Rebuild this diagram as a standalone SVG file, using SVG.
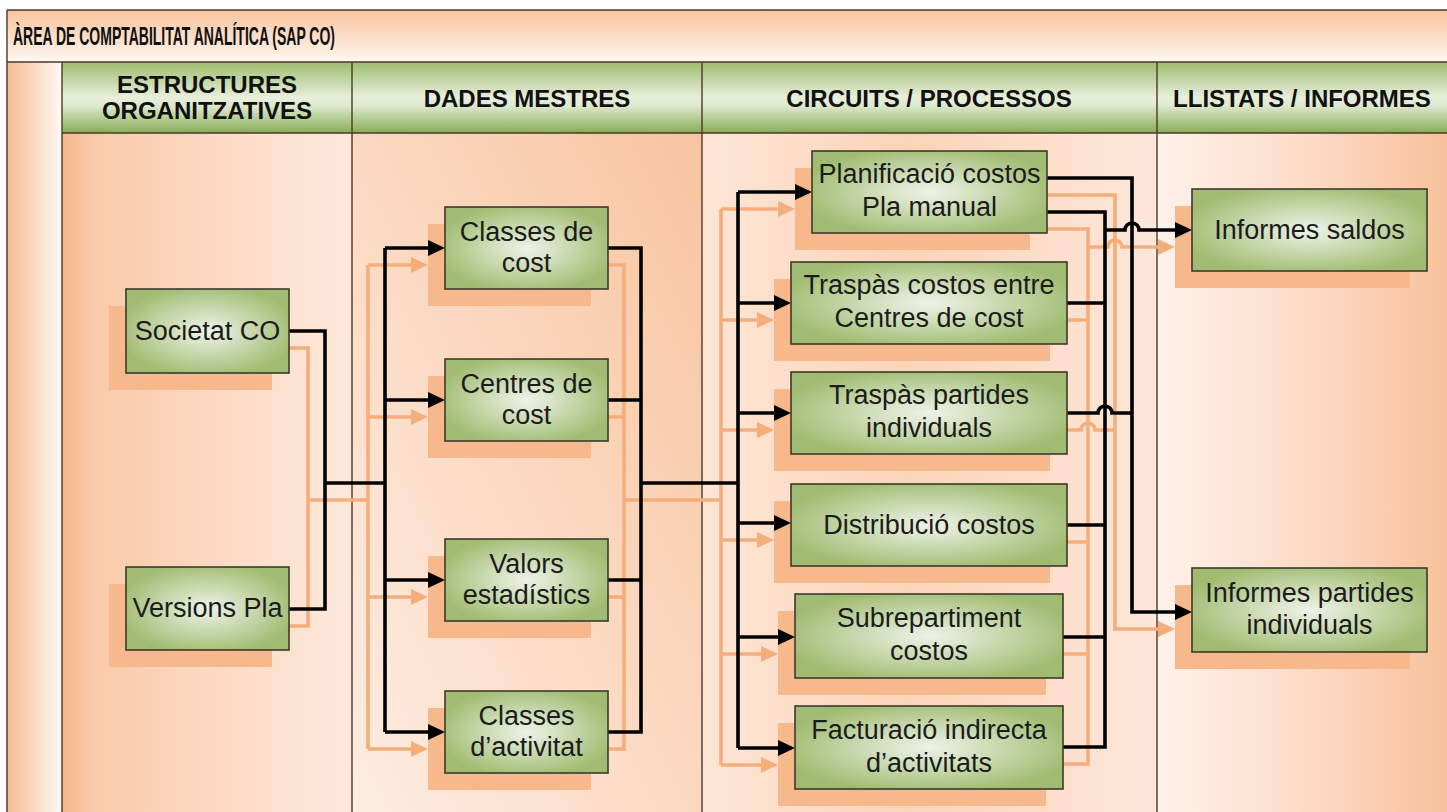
<svg xmlns="http://www.w3.org/2000/svg" width="1447" height="812" viewBox="0 0 1447 812">
<defs>
<style>
.box{fill:url(#gNode);stroke:#3a3a2c;stroke-width:1.6}
.sh{fill:#f7b88c}
.lbl{font-family:"Liberation Sans",Arial,sans-serif;font-size:27px;fill:#1c1c1c;text-anchor:middle}
.hdr{font-family:"Liberation Sans",Arial,sans-serif;font-weight:bold;font-size:24px;fill:#111;text-anchor:middle}
.ttl{font-family:"Liberation Sans",Arial,sans-serif;font-weight:bold;font-size:25px;fill:#111}
.sep{stroke:#4a3a2a;stroke-width:1.4;fill:none}
.w{fill:none;stroke:#000;stroke-width:3.6}
.wa{fill:none;stroke:#000;stroke-width:3.6;marker-end:url(#ab)}
.o{fill:none;stroke:#f4ae7c;stroke-width:3.6}
.oa{fill:none;stroke:#f4ae7c;stroke-width:3.6;marker-end:url(#ao)}
</style>
<linearGradient id="gTitle" x1="0" y1="0" x2="0" y2="1"><stop offset="0" stop-color="#f8c39c"/><stop offset="1" stop-color="#fff8f2"/></linearGradient>
<linearGradient id="gStrip" x1="0" y1="0" x2="1" y2="0"><stop offset="0" stop-color="#f6bd95"/><stop offset="0.55" stop-color="#fbdcc6"/><stop offset="1" stop-color="#fffaf6"/></linearGradient>
<linearGradient id="gHead" x1="0" y1="0" x2="0" y2="1"><stop offset="0" stop-color="#9dbc6d"/><stop offset="0.5" stop-color="#e8efdb"/><stop offset="0.62" stop-color="#dde8cc"/><stop offset="1" stop-color="#88ad56"/></linearGradient>
<linearGradient id="gC1" x1="0" y1="0" x2="1" y2="0"><stop offset="0" stop-color="#f6b68a"/><stop offset="0.1" stop-color="#f9caa9"/><stop offset="0.6" stop-color="#fcdcc7"/><stop offset="1" stop-color="#fde9dc"/></linearGradient>
<linearGradient id="gC2" x1="0" y1="1" x2="1" y2="0"><stop offset="0" stop-color="#fdede2"/><stop offset="0.5" stop-color="#fbd9c1"/><stop offset="1" stop-color="#f8c4a0"/></linearGradient>
<linearGradient id="gC3" x1="0" y1="0" x2="1" y2="0"><stop offset="0" stop-color="#fde6d6"/><stop offset="0.45" stop-color="#fbd4b8"/><stop offset="1" stop-color="#fde7d9"/></linearGradient>
<linearGradient id="gC4" x1="0" y1="0" x2="1" y2="0"><stop offset="0" stop-color="#fef2ea"/><stop offset="0.5" stop-color="#fcdcc7"/><stop offset="1" stop-color="#f8c19c"/></linearGradient>
<radialGradient id="gNode" cx="0.5" cy="0.5" r="0.55"><stop offset="0" stop-color="#eef2e8"/><stop offset="0.25" stop-color="#dbe6cb"/><stop offset="1" stop-color="#a1bc72"/></radialGradient>
<marker id="ab" markerUnits="userSpaceOnUse" markerWidth="18" markerHeight="16" refX="7" refY="8" orient="auto"><path d="M0,0 L17,8 L0,16 z" fill="#000"/></marker>
<marker id="ao" markerUnits="userSpaceOnUse" markerWidth="18" markerHeight="16" refX="7" refY="8" orient="auto"><path d="M0,0 L17,8 L0,16 z" fill="#f4ae7c"/></marker>
</defs>

<g id="background">
<rect x="7" y="10" width="1440" height="52" fill="url(#gTitle)"/>
<rect x="7" y="62" width="55" height="750" fill="url(#gStrip)"/>
<rect x="62" y="62" width="1385" height="71" fill="url(#gHead)"/>
<rect x="62" y="133" width="290" height="679" fill="url(#gC1)"/>
<rect x="352" y="133" width="350" height="679" fill="url(#gC2)"/>
<rect x="702" y="133" width="455" height="679" fill="url(#gC3)"/>
<rect x="1157" y="133" width="290" height="679" fill="url(#gC4)"/>
<path class="sep" d="M7,10 H1447 M7,10 V812 M7,62 H1447 M62,133 H1447 M62,62 V812 M352,62 V812 M702,62 V812 M1157,62 V812"/>
<text class="ttl" x="13" y="45" textLength="322" lengthAdjust="spacingAndGlyphs">ÀREA DE COMPTABILITAT ANALÍTICA (SAP CO)</text>
</g>

<g id="headers">
<text class="hdr" x="207" y="93">ESTRUCTURES</text>
<text class="hdr" x="207" y="119">ORGANITZATIVES</text>
<text class="hdr" x="527" y="107">DADES MESTRES</text>
<text class="hdr" x="929" y="107">CIRCUITS / PROCESSOS</text>
<text class="hdr" x="1302" y="107">LLISTATS / INFORMES</text>
</g>

<g id="shadows">
<rect class="sh" x="109" y="306" width="163" height="84"/>
<rect class="sh" x="109" y="584" width="163" height="83"/>
<rect class="sh" x="428" y="224" width="163" height="82"/>
<rect class="sh" x="428" y="376" width="163" height="82"/>
<rect class="sh" x="428" y="556" width="163" height="82"/>
<rect class="sh" x="428" y="708" width="163" height="82"/>
<rect class="sh" x="795" y="168" width="235" height="82"/>
<rect class="sh" x="774" y="279" width="276" height="82"/>
<rect class="sh" x="774" y="389" width="276" height="82"/>
<rect class="sh" x="774" y="501" width="276" height="82"/>
<rect class="sh" x="778" y="611" width="268" height="84"/>
<rect class="sh" x="778" y="723" width="268" height="83"/>
<rect class="sh" x="1175" y="206" width="235" height="82"/>
<rect class="sh" x="1175" y="585" width="235" height="84"/>
</g>

<g id="connectors">
<g id="connector-shadows" transform="translate(-17,17)">
<path class="o" d="M289,331 H325 V609 H289 M325,483 H385 M385,248 V732"/>
<path class="oa" d="M385,248 H435"/><path class="oa" d="M385,400 H435"/><path class="oa" d="M385,580 H435"/><path class="oa" d="M385,732 H435"/>
<path class="o" d="M608,248 H641 V732 H608 M608,400 H641 M608,580 H641 M641,483 H738 M738,192 V748"/>
<path class="oa" d="M738,192 H802"/><path class="oa" d="M738,303 H781"/><path class="oa" d="M738,413 H781"/><path class="oa" d="M738,523 H781"/><path class="oa" d="M738,637 H785"/><path class="oa" d="M738,748 H785"/>
<path class="oa" d="M1047,178 H1132 V612 H1182"/>
<path class="o" d="M1047,212 H1105 V747 H1063 M1067,303 H1105 M1067,525 H1105 M1063,637 H1105 M1067,413 H1098 A7,7 0 0 1 1112,413 H1132"/>
<path class="oa" d="M1105,230 H1125 A7,7 0 0 1 1139,230 H1182"/>
</g>
<g id="connector-lines">
<path class="w" d="M289,331 H325 V609 H289 M325,483 H385 M385,248 V732"/>
<path class="wa" d="M385,248 H435"/><path class="wa" d="M385,400 H435"/><path class="wa" d="M385,580 H435"/><path class="wa" d="M385,732 H435"/>
<path class="w" d="M608,248 H641 V732 H608 M608,400 H641 M608,580 H641 M641,483 H738 M738,192 V748"/>
<path class="wa" d="M738,192 H802"/><path class="wa" d="M738,303 H781"/><path class="wa" d="M738,413 H781"/><path class="wa" d="M738,523 H781"/><path class="wa" d="M738,637 H785"/><path class="wa" d="M738,748 H785"/>
<path class="wa" d="M1047,178 H1132 V612 H1182"/>
<path class="w" d="M1047,212 H1105 V747 H1063 M1067,303 H1105 M1067,525 H1105 M1063,637 H1105 M1067,413 H1098 A7,7 0 0 1 1112,413 H1132"/>
<path class="wa" d="M1105,230 H1125 A7,7 0 0 1 1139,230 H1182"/>
</g>
</g>

<g id="n-societat"><rect class="box" x="126" y="289" width="163" height="84"/><text class="lbl" x="207.5" y="340">Societat CO</text></g>
<g id="n-versions"><rect class="box" x="126" y="567" width="163" height="83"/><text class="lbl" x="207.5" y="617">Versions Pla</text></g>

<g id="n-classes-cost"><rect class="box" x="445" y="207" width="163" height="82"/><text class="lbl" x="526.5" y="241">Classes de</text><text class="lbl" x="526.5" y="272">cost</text></g>
<g id="n-centres-cost"><rect class="box" x="445" y="359" width="163" height="82"/><text class="lbl" x="526.5" y="393">Centres de</text><text class="lbl" x="526.5" y="424">cost</text></g>
<g id="n-valors"><rect class="box" x="445" y="539" width="163" height="82"/><text class="lbl" x="526.5" y="573">Valors</text><text class="lbl" x="526.5" y="604">estadístics</text></g>
<g id="n-classes-activitat"><rect class="box" x="445" y="691" width="163" height="82"/><text class="lbl" x="526.5" y="725">Classes</text><text class="lbl" x="526.5" y="756">d’activitat</text></g>

<g id="n-planificacio"><rect class="box" x="812" y="151" width="235" height="82"/><text class="lbl" x="929.5" y="183">Planificació costos</text><text class="lbl" x="929.5" y="216">Pla manual</text></g>
<g id="n-traspas-costos"><rect class="box" x="791" y="262" width="276" height="82"/><text class="lbl" x="929" y="294">Traspàs costos entre</text><text class="lbl" x="929" y="327">Centres de cost</text></g>
<g id="n-traspas-partides"><rect class="box" x="791" y="372" width="276" height="82"/><text class="lbl" x="929" y="404">Traspàs partides</text><text class="lbl" x="929" y="437">individuals</text></g>
<g id="n-distribucio"><rect class="box" x="791" y="484" width="276" height="82"/><text class="lbl" x="929" y="534">Distribució costos</text></g>
<g id="n-subrepartiment"><rect class="box" x="795" y="594" width="268" height="84"/><text class="lbl" x="929" y="627">Subrepartiment</text><text class="lbl" x="929" y="660">costos</text></g>
<g id="n-facturacio"><rect class="box" x="795" y="706" width="268" height="83"/><text class="lbl" x="929" y="739">Facturació indirecta</text><text class="lbl" x="929" y="772">d’activitats</text></g>

<g id="n-informes-saldos"><rect class="box" x="1192" y="189" width="235" height="82"/><text class="lbl" x="1309.5" y="239">Informes saldos</text></g>
<g id="n-informes-partides"><rect class="box" x="1192" y="568" width="235" height="84"/><text class="lbl" x="1309.5" y="602">Informes partides</text><text class="lbl" x="1309.5" y="634">individuals</text></g>
</svg>
